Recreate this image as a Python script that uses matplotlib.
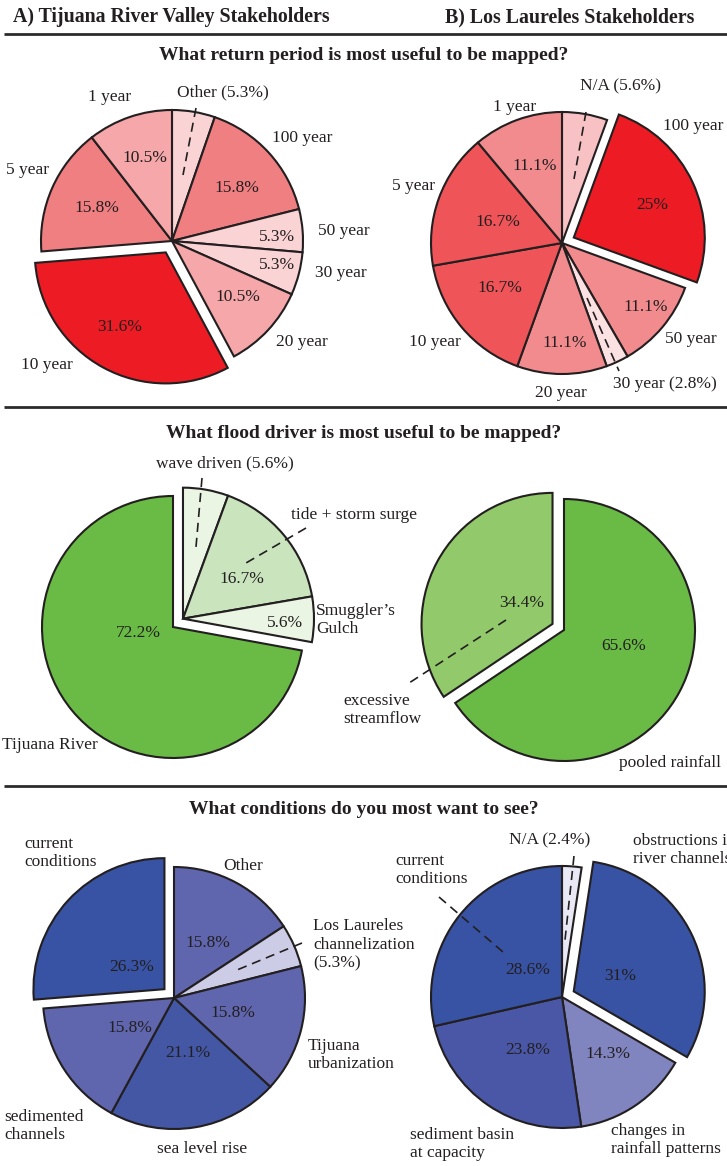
import matplotlib
matplotlib.use("Agg")
import matplotlib.pyplot as plt
import numpy as np

W, H = 727, 1166

# ------------------------------------------------------------------ data
rp_a_labels = ["Other", "100 year", "50 year", "30 year", "20 year", "10 year", "5 year", "1 year"]
rp_a_values = [5.3, 15.8, 5.3, 5.3, 10.5, 31.6, 15.8, 10.5]

rp_b_labels = ["N/A", "100 year", "50 year", "30 year", "20 year", "10 year", "5 year", "1 year"]
rp_b_values = [5.6, 25, 11.1, 2.8, 11.1, 16.7, 16.7, 11.1]

fd_a_labels = ["wave driven", "tide + storm surge", "Smuggler\u2019s\nGulch", "Tijuana River"]
fd_a_values = [5.6, 16.7, 5.6, 72.2]

fd_b_labels = ["pooled rainfall", "excessive\nstreamflow"]
fd_b_values = [65.6, 34.4]

cd_a_labels = ["Other", "Los Laureles\nchannelization", "Tijuana\nurbanization",
               "sea level rise", "sedimented\nchannels", "current\nconditions"]
cd_a_values = [15.8, 5.3, 15.8, 21.1, 15.8, 26.3]

cd_b_labels = ["N/A", "obstructions in\nriver channels", "changes in\nrainfall patterns",
               "sediment basin\nat capacity", "current\nconditions"]
cd_b_values = [2.4, 31, 14.3, 23.8, 28.6]

headers = ["A) Tijuana River Valley Stakeholders", "B) Los Laureles Stakeholders"]
questions = ["What return period is most useful to be mapped?",
             "What flood driver is most useful to be mapped?",
             "What conditions do you most want to see?"]

# ------------------------------------------------------------------ style
rp_a_colors = ["#FAD3D5", "#F07F82", "#FAD3D5", "#FAD3D5", "#F5A7AA", "#ED1C24", "#F07F82", "#F5A7AA"]
rp_b_colors = ["#F8C2C5", "#ED1C24", "#F28B8E", "#FCE1E3", "#F28B8E", "#EE5458", "#EE5458", "#F28B8E"]
fd_a_colors = ["#EAF5E4", "#CAE4BE", "#EAF5E4", "#6ABB45"]
fd_b_colors = ["#6ABB45", "#92CA6B"]
cd_a_colors = ["#5F66AE", "#CCCCE6", "#5F66AE", "#4357A5", "#5F66AE", "#3853A4"]
cd_b_colors = ["#E8E9F4", "#3853A4", "#8084BF", "#4957A6", "#3853A4"]

EDGE = "#231F20"
TXT = "#231F20"
SERIF = ["Liberation Serif", "DejaVu Serif"]
FS = 12.5
R = 131
EXPLODE_PX = 13  # offset of a pulled-out slice, in pixels

fig = plt.figure(figsize=(W / 100, H / 100), dpi=100)
ax = fig.add_axes([0, 0, 1, 1])


def Y(y):
    return H - y


def text(x, y, s, ha="center", size=FS, weight="normal"):
    ax.text(x, Y(y), s, ha=ha, va="center", fontsize=size, family=SERIF,
            weight=weight, color=TXT, linespacing=1.22)


def leader(p, q):
    ax.plot([p[0], q[0]], [Y(p[1]), Y(q[1])], color=EDGE, lw=1.2,
            ls=(0, (5.5, 3.5)), solid_capstyle="butt", zorder=5)


def pct(v):
    return f"{v:g}%"


def draw_pie(values, colors, center, explode_idx=None, group=None):
    cx, cy = center
    # matplotlib's explode offset is in data units (pixels here)
    expl = [EXPLODE_PX if i == explode_idx else 0 for i in range(len(values))]
    wedges, _ = ax.pie(values, colors=colors, startangle=90, counterclock=False,
                       center=(cx, Y(cy)), radius=R, explode=expl, frame=True,
                       wedgeprops=dict(edgecolor=EDGE, linewidth=1.5, joinstyle="miter"))
    if group:
        t1 = min(wedges[i].theta1 for i in group)
        t2 = max(wedges[i].theta2 for i in group)
        mid = np.deg2rad((t1 + t2) / 2)
        dx, dy = EXPLODE_PX * np.cos(mid), EXPLODE_PX * np.sin(mid)
        for i in group:
            c = wedges[i].center
            wedges[i].set_center((c[0] + dx, c[1] + dy))
    return wedges


# ------------------------------------------------------------------ headers / separators
text(13, 17, headers[0], ha="left", size=14.3, weight="bold")
text(445, 17, headers[1], ha="left", size=14.3, weight="bold")
for yy in (34, 407, 786):
    ax.plot([4, W], [Y(yy), Y(yy)], color="#2B2B2B", lw=2.0, solid_capstyle="butt")
text(W / 2, 55, questions[0], size=14, weight="bold")
text(W / 2, 433, questions[1], size=14, weight="bold")
text(W / 2, 810, questions[2], size=14, weight="bold")

# ------------------------------------------------------------------ A: return period
draw_pie(rp_a_values, rp_a_colors, (172, 241), explode_idx=5)
v, L = rp_a_values, rp_a_labels
text(223, 92, f"{L[0]} ({pct(v[0])})")
text(302, 138, L[1])
text(344, 231, L[2])
text(341, 273, L[3])
text(302, 342, L[4])
text(47, 365, L[5])
text(28, 170, L[6])
text(110, 97, L[7])
text(237, 188, pct(v[1]))
text(277, 237, pct(v[2]))
text(277, 265, pct(v[3]))
text(238, 297, pct(v[4]))
text(120, 327, pct(v[5]))
text(97, 208, pct(v[6]))
text(145, 158, pct(v[7]))
leader((196, 108), (183, 175))

# ------------------------------------------------------------------ B: return period
draw_pie(rp_b_values, rp_b_colors, (562, 243), explode_idx=1)
v, L = rp_b_values, rp_b_labels
text(620, 86, f"{L[0]} ({pct(v[0])})")
text(693, 126, L[1])
text(691, 339, L[2])
text(665, 384, f"{L[3]} ({pct(v[3])})")
text(561, 393, L[4])
text(435, 342, L[5])
text(413, 186, L[6])
text(515, 107, L[7])
text(652, 205, pct(v[1]))
text(646, 307, pct(v[2]))
text(565, 343, pct(v[4]))
text(500, 288, pct(v[5]))
text(498, 222, pct(v[6]))
text(535, 166, pct(v[7]))
leader((586, 112), (574, 179))
leader((587, 298), (619, 371))

# ------------------------------------------------------------------ A: flood driver
draw_pie(fd_a_values, fd_a_colors, (173, 627), group=[0, 1, 2])
v, L = fd_a_values, fd_a_labels
text(225, 463, f"{L[0]} ({pct(v[0])})")
text(354, 515, L[1])
text(316, 620, L[2], ha="left")
text(50, 745, L[3])
text(242, 579, pct(v[1]))
text(285, 623, pct(v[2]))
text(138, 633, pct(v[3]))
leader((202, 478), (196, 547))
leader((306, 528), (246, 563))

# ------------------------------------------------------------------ B: flood driver
draw_pie(fd_b_values, fd_b_colors, (564, 630), explode_idx=1)
v, L = fd_b_values, fd_b_labels
text(670, 763, L[0])
text(343, 710, L[1], ha="left")
text(624, 646, pct(v[0]))
text(522, 603, pct(v[1]))
leader((506, 620), (406, 685))

# ------------------------------------------------------------------ A: conditions
draw_pie(cd_a_values, cd_a_colors, (174, 998), explode_idx=5)
v, L = cd_a_values, cd_a_labels
text(243, 866, L[0])
text(313, 945, f"{L[1]}\n({pct(v[1])})", ha="left")
text(308, 1055, L[2], ha="left")
text(202, 1149, L[3])
text(4, 1126, L[4], ha="left")
text(24, 853, L[5], ha="left")
text(208, 943, pct(v[0]))
text(233, 1013, pct(v[2]))
text(188, 1053, pct(v[3]))
text(130, 1028, pct(v[4]))
text(132, 967, pct(v[5]))
leader((302, 943), (237, 970))

# ------------------------------------------------------------------ B: conditions
draw_pie(cd_b_values, cd_b_colors, (562, 997), explode_idx=1)
v, L = cd_b_values, cd_b_labels
text(550, 840, f"{L[0]} ({pct(v[0])})")
text(633, 850, L[1], ha="left")
text(611, 1140, L[2], ha="left")
text(410, 1144, L[3], ha="left")
text(395, 870, L[4], ha="left")
text(620, 976, pct(v[1]))
text(608, 1054, pct(v[2]))
text(528, 1050, pct(v[3]))
text(528, 970, pct(v[4]))
leader((574, 856), (565, 940))
leader((439, 897), (503, 952))

ax.set_xlim(0, W)
ax.set_ylim(0, H)
ax.set_aspect("auto")
ax.set_position([0, 0, 1, 1])
ax.axis("off")
fig.savefig("out.png", dpi=100, facecolor="white")
